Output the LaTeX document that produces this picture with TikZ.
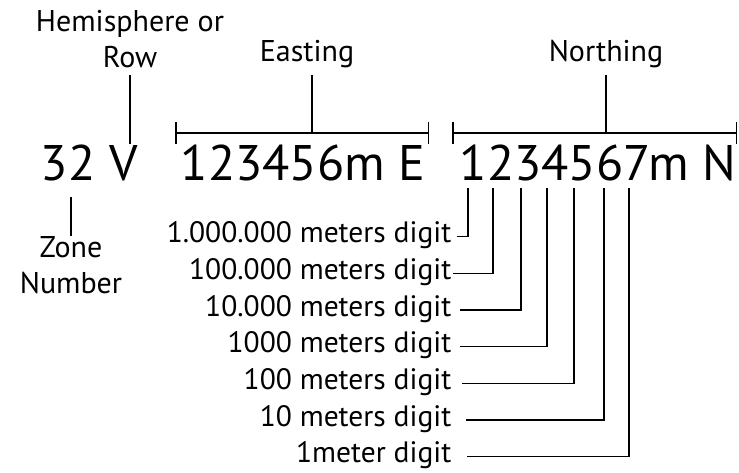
\documentclass[tikz,border=0pt]{standalone}
\usepackage{fontspec}
\setmainfont{PT Sans}
\usetikzlibrary{arrows, arrows.meta, positioning}

\begin{document}
\begin{tikzpicture}[x=1pt, y=-1pt, line width=1.5pt, >=latex']
        \tikzstyle{big} = [font=\fontsize{50}{50}\selectfont, inner sep=0pt]
        \tikzstyle{lbl} = [font=\fontsize{30}{36}\selectfont, inner xsep=0pt, inner ysep=6pt, align=center]
        \tikzstyle{dgt} = [font=\fontsize{29.5}{30}\selectfont, inner sep=0pt]
        \tikzstyle{brk} = [{Bar[width=22pt]}-{Bar[width=22pt]}]

        \useasboundingbox (0,0) rectangle (739,472);

        % the grid reference itself
        \node (zone) [big, anchor=base west] at (40,180) {32};
        \node (hemi) [big, anchor=base west] at (109,180) {V};
        \node (east) [big, anchor=base west] at (180,180) {123456m E};
        \node (north) [big, anchor=base west] at (459,180) {1234567m N};

        % zone number
        \coordinate (zonetick) at (71,197);
        \node (zonelbl) [lbl, inner ysep=0pt, anchor=north] at (71,236) {Zone\\Number};
        \draw (zonetick) -- (zonelbl.north);

        % hemisphere / row
        \node (hemlbl) [lbl, anchor=south] at (130,75) {Hemisphere or\\Row};
        \draw (hemlbl.south) -- (hemlbl.south |- hemi.north);

        % easting bracket
        \coordinate (eastL) at (175,133); \coordinate (eastR) at (429,133); \coordinate (eastmid) at (312,133);
        \node (eastlbl) [lbl, anchor=south] at (307,75) {Easting};
        \draw [brk] (eastL) -- (eastR);
        \draw (eastmid |- eastlbl.south) -- (eastmid);

        % northing bracket
        \coordinate (northL) at (452,133); \coordinate (northR) at (737,133); \coordinate (northmid) at (606,133);
        \node (northlbl) [lbl, anchor=south] at (606,75) {Northing};
        \draw [brk] (northL) -- (northR);
        \draw (northlbl.south) -- (northmid);

        % one leader per northing digit
        \foreach \i/\x/\gap/\txt in {1/468/5/{1.000.000 meters digit}, 2/493/1/{100.000 meters digit}, 3/521/8/{10.000 meters digit}, 4/547/8/{1000 meters digit}, 5/574/10/{100 meters digit}, 6/604/14/{10 meters digit}, 7/629/15/{1meter digit}} {
            \coordinate (d\i) at (\x,188);
            \node (l\i) [dgt, anchor=base east] at (452, {206+37*\i-\i/3}) {\txt};
            \coordinate (h\i) at ({452+\gap}, {200+37*\i-\i/3});
            \draw (d\i) |- (h\i);
        }
\end{tikzpicture}
\end{document}
